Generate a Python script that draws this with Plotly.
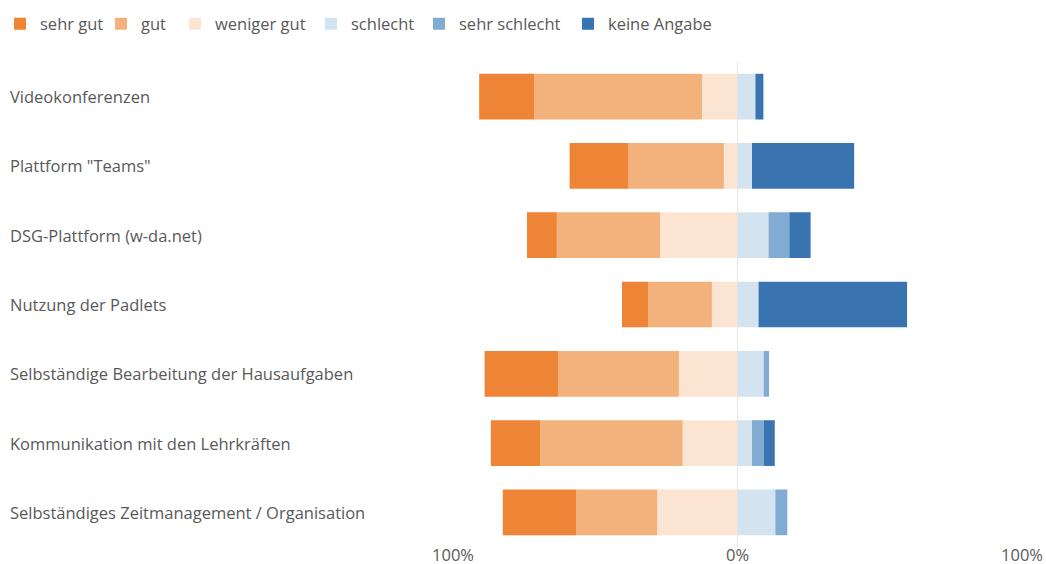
import plotly.graph_objects as go

categories = [
    "Videokonferenzen",
    "Plattform \"Teams\"",
    "DSG-Plattform (w-da.net)",
    "Nutzung der Padlets",
    "Selbständige Bearbeitung der Hausaufgaben",
    "Kommunikation mit den Lehrkräften",
    "Selbständiges Zeitmanagement / Organisation",
]

sehr_gut = [19.3, 20.7, 10.5, 9.3, 25.8, 17.3, 25.9]
gut = [59.0, 33.5, 36.3, 22.3, 42.5, 50.1, 28.4]
weniger_gut = [12.5, 4.8, 27.2, 9.0, 20.6, 19.3, 28.2]
schlecht = [6.3, 5.1, 10.9, 7.4, 9.2, 5.1, 13.3]
sehr_schlecht = [0.0, 0.0, 7.3, 0.0, 1.9, 4.1, 4.2]
keine_angabe = [2.8, 35.9, 7.5, 52.2, 0.0, 3.9, 0.0]

tick_vals = [-100, 0, 100]
tick_text = ["100%", "0%", "100%"]

colors = {
    "sehr gut": "#EE8536",
    "gut": "#F3B27B",
    "weniger gut": "#FBE5D2",
    "schlecht": "#D4E3F0",
    "sehr schlecht": "#81ABD3",
    "keine Angabe": "#3A74B0",
}

text_color = "#595959"
font_family = "Open Sans, Noto Sans, sans-serif"
fs = 16.5

W, H = 1046, 564
ml, mr, mt, mb = 453, 24, 62, 17
plot_w = W - ml - mr

# legend anchor x positions in pixels (one legend box per series)
legend_px = {
    "sehr gut": -5,
    "gut": 101,
    "weniger gut": 175,
    "schlecht": 311,
    "sehr schlecht": 419,
    "keine Angabe": 568,
}
legend_ids = {
    "sehr gut": "legend",
    "gut": "legend2",
    "weniger gut": "legend3",
    "schlecht": "legend4",
    "sehr schlecht": "legend5",
    "keine Angabe": "legend6",
}

# order of stacking: left side from zero outward, then right side from zero outward
series = [
    ("weniger gut", weniger_gut, -1),
    ("gut", gut, -1),
    ("sehr gut", sehr_gut, -1),
    ("schlecht", schlecht, 1),
    ("sehr schlecht", sehr_schlecht, 1),
    ("keine Angabe", keine_angabe, 1),
]

fig = go.Figure()
for name, vals, sign in series:
    fig.add_trace(go.Bar(
        y=categories,
        x=[sign * v for v in vals],
        name=name,
        orientation="h",
        marker=dict(color=colors[name], line=dict(width=0)),
        width=0.66,
        legend=legend_ids[name],
        showlegend=True,
        customdata=vals,
        hovertemplate="%{y}<br>" + name + ": %{customdata:.1f}%<extra></extra>",
    ))

for cat in categories:
    fig.add_annotation(
        x=(8 - ml) / plot_w, xref="paper",
        y=cat, yref="y",
        text=cat, showarrow=False,
        xanchor="left", yanchor="middle",
        font=dict(size=fs, color=text_color, family=font_family),
    )

legend_layouts = {}
for name, lid in legend_ids.items():
    legend_layouts[lid] = dict(
        orientation="h",
        xref="container", yref="container",
        x=legend_px[name] / W, y=1 - 24 / H,
        xanchor="left", yanchor="middle",
        font=dict(size=fs, color=text_color, family=font_family),
        bgcolor="rgba(0,0,0,0)",
        borderwidth=0,
        itemwidth=30,
    )

fig.update_layout(
    width=W, height=H,
    barmode="relative",
    margin=dict(l=ml, r=mr, t=mt, b=mb, autoexpand=False),
    paper_bgcolor="white",
    plot_bgcolor="white",
    font=dict(family=font_family, size=fs, color=text_color),
    showlegend=True,
    xaxis=dict(
        range=[-100, 100],
        tickvals=tick_vals,
        ticktext=tick_text,
        showgrid=True,
        gridcolor="#E6E6E6",
        gridwidth=1,
        zeroline=False,
        showline=False,
        ticks="",
        ticklabelstandoff=-4,
        tickfont=dict(size=fs, color=text_color),
        fixedrange=True,
    ),
    yaxis=dict(
        categoryorder="array",
        categoryarray=categories[::-1],
        showticklabels=False,
        showgrid=False,
        zeroline=False,
        ticks="",
        fixedrange=True,
    ),
    **legend_layouts,
)

fig.write_html(
    "out.html",
    config={"displayModeBar": False},
    post_script="document.body.style.margin='0';document.body.style.overflow='hidden';",
)
